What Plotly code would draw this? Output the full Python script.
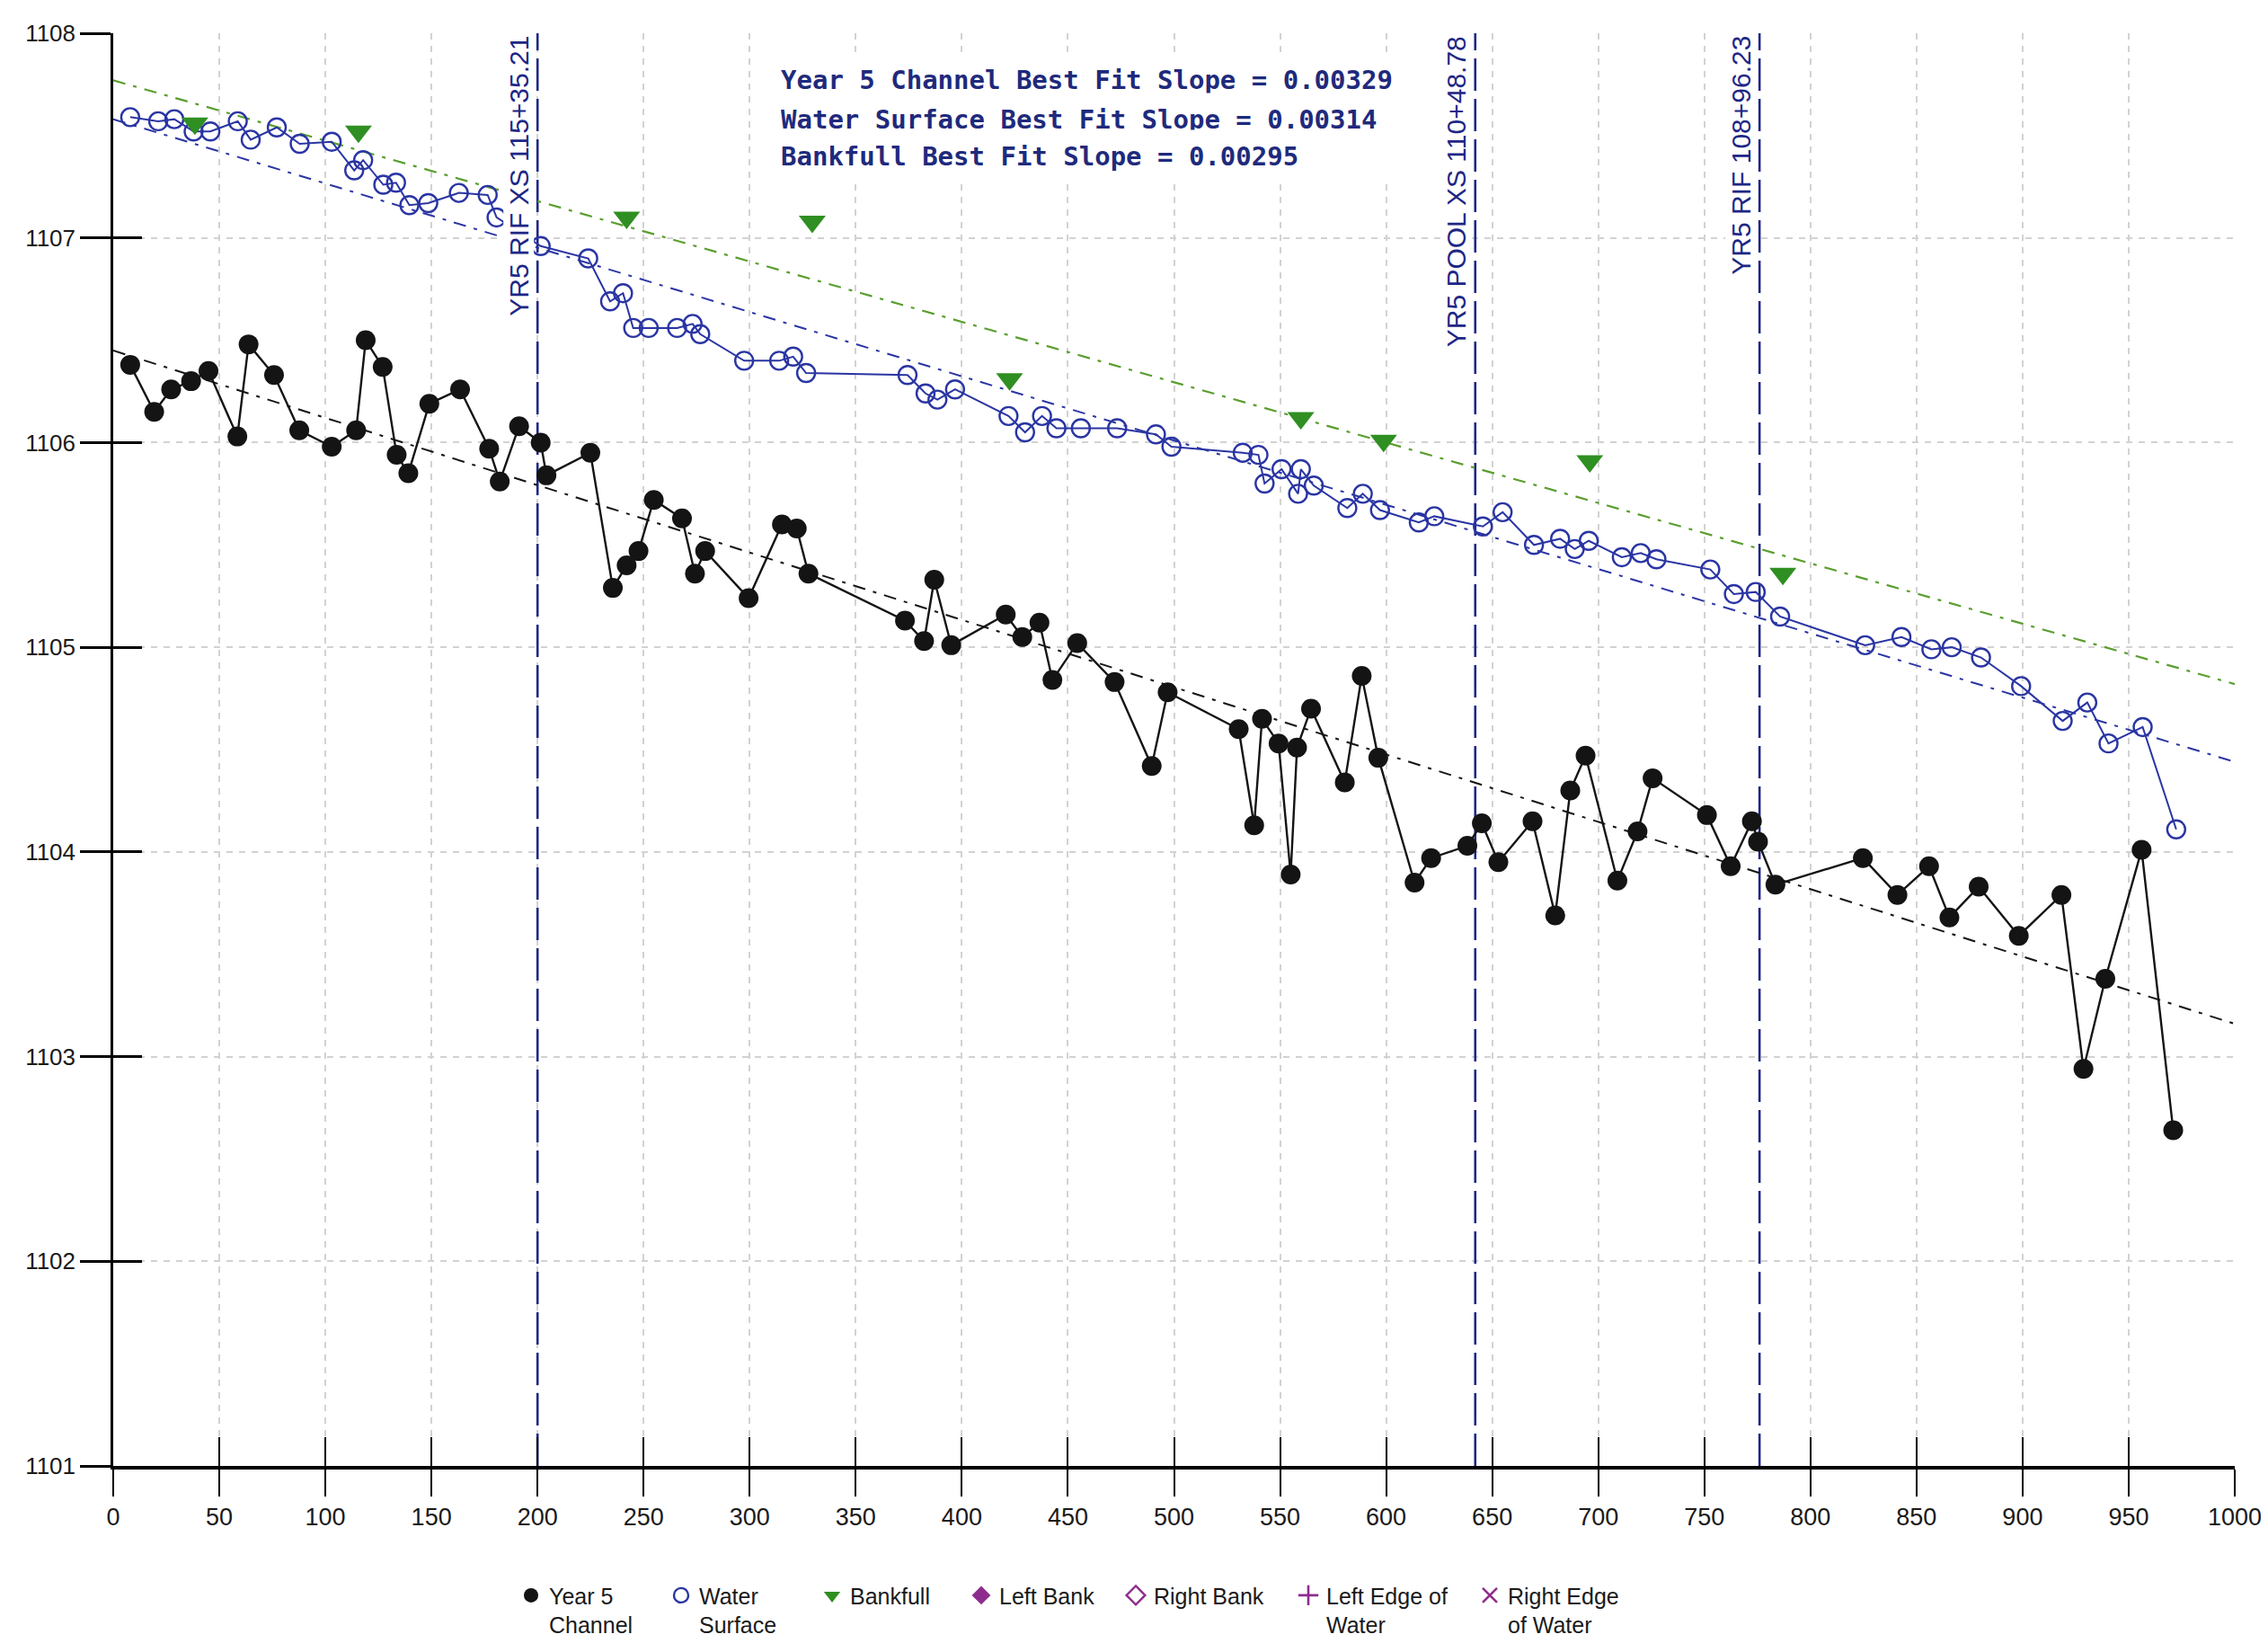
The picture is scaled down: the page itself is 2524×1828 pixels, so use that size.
import plotly.graph_objects as go

# ---------------- data ----------------
CH_X = [8, 19.3, 27.3, 36.7, 44.9, 58.5, 63.8, 75.8, 87.7, 103, 114.5, 119, 127, 133.6, 139.1,
        149, 163.5, 177.2, 182.2, 191.3, 201.5, 204.2, 224.9, 235.5, 242, 247.6, 254.8, 268.1,
        274.2, 279, 299.5, 315.2, 322.2, 327.7, 373.2, 382.2, 387, 395, 420.7, 428.5, 436.6,
        442.7, 454.4, 472, 489.5, 497, 530.5, 537.8, 541.5, 549.3, 555, 558, 564.6, 580.5,
        588.5, 596.3, 613.4, 621.2, 638.3, 645.1, 652.9, 669, 679.7, 686.8, 694, 709, 718.5,
        725.6, 751.2, 762.4, 772.4, 775.3, 783.5, 824.7, 841, 855.9, 865.5, 879.3, 898.2,
        918.3, 928.7, 939, 956.1, 971]
CH_Y = [1106.38, 1106.15, 1106.26, 1106.30, 1106.35, 1106.03, 1106.48, 1106.33, 1106.06, 1105.98,
        1106.06, 1106.50, 1106.37, 1105.94, 1105.85, 1106.19, 1106.26, 1105.97, 1105.81, 1106.08,
        1106.00, 1105.84, 1105.95, 1105.29, 1105.40, 1105.47, 1105.72, 1105.63, 1105.36, 1105.47,
        1105.24, 1105.60, 1105.58, 1105.36, 1105.13, 1105.03, 1105.33, 1105.01, 1105.16, 1105.05,
        1105.12, 1104.84, 1105.02, 1104.83, 1104.42, 1104.78, 1104.60, 1104.13, 1104.65, 1104.53,
        1103.89, 1104.51, 1104.70, 1104.34, 1104.86, 1104.46, 1103.85, 1103.97, 1104.03, 1104.14,
        1103.95, 1104.15, 1103.69, 1104.30, 1104.47, 1103.86, 1104.10, 1104.36, 1104.18, 1103.93,
        1104.15, 1104.05, 1103.84, 1103.97, 1103.79, 1103.93, 1103.68, 1103.83, 1103.59, 1103.79,
        1102.94, 1103.38, 1104.01, 1102.64]

WS_X = [8, 21.2, 28.8, 37.9, 45.8, 58.7, 64.8, 77.1, 87.9, 103, 113.6, 117.8, 127.3, 133.3, 139.6,
        148.5, 162.9, 176.5, 180.7, 201.5, 223.9, 234.2, 240.3, 245.1, 252.4, 265.8, 273.1, 276.7,
        297.4, 313.9, 320.5, 326.6, 374.4, 382.9, 388.5, 396.8, 422, 429.8, 437.8, 444.6, 456.1,
        473.2, 491.5, 498.8, 532.4, 539.8, 542.7, 550.7, 558.5, 559.8, 565.9, 581.7, 589, 597.1,
        615.4, 622.7, 645.6, 654.9, 669.7, 682, 688.9, 695.5, 711.1, 720, 727.4, 752.8, 763.9,
        774.2, 785.7, 825.8, 842.9, 857, 866.6, 880.4, 899.3, 918.9, 930.5, 940.5, 956.6, 972.4]
WS_Y = [1107.59, 1107.57, 1107.58, 1107.52, 1107.52, 1107.57, 1107.48, 1107.54, 1107.46, 1107.47,
        1107.33, 1107.38, 1107.26, 1107.27, 1107.16, 1107.17, 1107.22, 1107.21, 1107.10, 1106.96,
        1106.90, 1106.69, 1106.73, 1106.56, 1106.56, 1106.56, 1106.58, 1106.53, 1106.40, 1106.40,
        1106.42, 1106.34, 1106.33, 1106.24, 1106.21, 1106.26, 1106.13, 1106.05, 1106.13, 1106.07,
        1106.07, 1106.07, 1106.04, 1105.98, 1105.95, 1105.94, 1105.80, 1105.87, 1105.75, 1105.87,
        1105.79, 1105.68, 1105.75, 1105.67, 1105.61, 1105.64, 1105.59, 1105.66, 1105.50, 1105.53,
        1105.48, 1105.52, 1105.44, 1105.46, 1105.43, 1105.38, 1105.26, 1105.27, 1105.15, 1105.01,
        1105.05, 1104.99, 1105.00, 1104.95, 1104.81, 1104.64, 1104.73, 1104.53, 1104.61, 1104.11]

BF_X = [38.5, 115.6, 242, 329.5, 422.5, 559.8, 598.8, 696, 787]
BF_Y = [1107.56, 1107.52, 1107.10, 1107.08, 1106.31, 1106.12, 1106.01, 1105.91, 1105.36]

FIT_X = [0, 1000]
CH_FIT = [1106.45, 1103.16]
WS_FIT = [1107.58, 1104.44]
BF_FIT = [1107.77, 1104.82]

XS_X = [200, 642, 776]
XS_LABELS = ["YR5 RIF XS 115+35.21", "YR5 POOL XS 110+48.78", "YR5 RIF 108+96.23"]

SLOPE_TEXT = ["Year 5 Channel Best Fit Slope = 0.00329",
              "Water Surface Best Fit Slope = 0.00314",
              "Bankfull Best Fit Slope = 0.00295"]
SLOPE_Y = [1107.77, 1107.58, 1107.40]

X_TICKS = list(range(0, 1001, 50))
Y_TICKS = list(range(1101, 1109))
X_RANGE = [0, 1000]
Y_RANGE = [1101, 1108]

LEGEND_NAMES = ["Year 5<br>Channel", "Water<br>Surface", "Bankfull", "Left Bank", "Right Bank",
                "Left Edge of<br>Water", "Right Edge<br>of Water"]

# ---------------- styles ----------------
BLACK = "#141414"
BLUE = "#2a35a3"
NAVY = "#1e2786"
GREEN = "#2f8f22"
GREEN_LINE = "#5a9e2e"
PURPLE = "#8e2c8e"
GRID = "#d2d2d2"
FONT = "Liberation Sans, Arial, sans-serif"

W, H = 2524, 1828
ML, MR, MT, MB = 118, 45, 29, 205
PW = W - ML - MR

fig = go.Figure()

# vertical cross-section lines
for xv in XS_X:
    fig.add_trace(go.Scatter(x=[xv, xv], y=Y_RANGE, mode="lines",
                             line=dict(color=NAVY, width=2.6, dash="36px,9px"),
                             showlegend=False, hoverinfo="skip"))

# best fit lines
fig.add_trace(go.Scatter(x=FIT_X, y=BF_FIT, mode="lines",
                         line=dict(color=GREEN_LINE, width=2.2, dash="14px,9px,4px,9px"),
                         showlegend=False, hoverinfo="skip"))
fig.add_trace(go.Scatter(x=FIT_X, y=WS_FIT, mode="lines",
                         line=dict(color=BLUE, width=2.0, dash="14px,9px,4px,9px"),
                         showlegend=False, hoverinfo="skip"))
fig.add_trace(go.Scatter(x=FIT_X, y=CH_FIT, mode="lines",
                         line=dict(color=BLACK, width=2.0, dash="14px,9px,4px,9px"),
                         showlegend=False, hoverinfo="skip"))

# data series
fig.add_trace(go.Scatter(x=WS_X, y=WS_Y, mode="lines+markers",
                         line=dict(color=BLUE, width=2.0),
                         marker=dict(symbol="circle-open", size=20, color=BLUE, line=dict(width=2.4)),
                         showlegend=False))
fig.add_trace(go.Scatter(x=CH_X, y=CH_Y, mode="lines+markers",
                         line=dict(color=BLACK, width=2.4),
                         marker=dict(symbol="circle", size=22, color=BLACK),
                         showlegend=False))
fig.add_trace(go.Scatter(x=BF_X, y=BF_Y, mode="markers",
                         marker=dict(symbol="triangle-down", size=26, color=GREEN),
                         showlegend=False))

# legend-only entries
LEG_MARKERS = [
    dict(symbol="circle", size=20, color=BLACK),
    dict(symbol="circle-open", size=19, color=BLUE, line=dict(width=2.4)),
    dict(symbol="triangle-down", size=22, color=GREEN),
    dict(symbol="diamond", size=22, color=PURPLE),
    dict(symbol="diamond-open", size=22, color=PURPLE, line=dict(width=2.4)),
    dict(symbol="cross-thin-open", size=24, color=PURPLE, line=dict(width=2.6, color=PURPLE)),
    dict(symbol="x-thin-open", size=20, color=PURPLE, line=dict(width=2.6, color=PURPLE)),
]
LEG_PX = [583, 750, 918, 1084, 1256, 1448, 1650]
for i, (nm, mk) in enumerate(zip(LEGEND_NAMES, LEG_MARKERS)):
    lg = "legend" if i == 0 else f"legend{i + 1}"
    fig.add_trace(go.Scatter(x=[None], y=[None], mode="markers", name=nm, marker=mk,
                             legend=lg, showlegend=True))
    fig.update_layout({lg: dict(
        x=(LEG_PX[i] - 20 - ML) / PW, xanchor="left",
        y=-0.076, yanchor="top",
        orientation="h", valign="top", itemsizing="trace",
        bgcolor="rgba(0,0,0,0)", borderwidth=0,
        font=dict(family=FONT, size=25, color="#1a1a1a"),
    )})

# dummy trace for inner-tick overlay axes
fig.add_trace(go.Scatter(x=[None], y=[None], xaxis="x2", yaxis="y2", showlegend=False,
                         hoverinfo="skip"))

annotations = []
for xv, lab in zip(XS_X, XS_LABELS):
    annotations.append(dict(x=xv, y=Y_RANGE[1], xref="x", yref="y", text=lab, textangle=-90,
                            xanchor="right", yanchor="top", xshift=-4, yshift=-2, showarrow=False,
                            bgcolor="white", borderpad=0,
                            font=dict(family=FONT, size=30, color=NAVY)))
for txt, yv in zip(SLOPE_TEXT, SLOPE_Y):
    annotations.append(dict(x=309, y=yv, xref="x", yref="y", text="<b>" + txt + "</b>",
                            xanchor="left", yanchor="middle", showarrow=False,
                            bgcolor="white", borderpad=12, width=700, align="left",
                            font=dict(family="DejaVu Sans Mono, monospace", size=29, color="#1f2a7c")))

fig.update_layout(
    width=W, height=H,
    margin=dict(l=ML, r=MR, t=MT, b=MB, pad=0, autoexpand=False),
    paper_bgcolor="white", plot_bgcolor="white",
    annotations=annotations,
    xaxis=dict(range=X_RANGE, tickvals=X_TICKS, ticktext=[str(v) for v in X_TICKS],
               ticks="outside", ticklen=30, tickwidth=2, tickcolor="black",
               showline=True, linecolor="black", linewidth=4,
               showgrid=True, gridcolor=GRID, gridwidth=1.6, griddash="7px,7px",
               zeroline=False, automargin=False,
               tickfont=dict(family=FONT, size=27, color="#1a1a1a")),
    yaxis=dict(range=Y_RANGE, tickvals=Y_TICKS, ticktext=[str(v) for v in Y_TICKS],
               ticks="outside", ticklen=34, tickwidth=3, tickcolor="black",
               showline=True, linecolor="black", linewidth=2.5,
               showgrid=True, gridcolor=GRID, gridwidth=1.6, griddash="7px,7px",
               zeroline=False, automargin=False,
               tickfont=dict(family=FONT, size=26, color="#1a1a1a")),
    xaxis2=dict(range=X_RANGE, tickvals=X_TICKS, overlaying="x", anchor="y2", side="bottom",
                ticks="inside", ticklen=32, tickwidth=2, tickcolor="black",
                showticklabels=False, showgrid=False, showline=False, zeroline=False),
    yaxis2=dict(range=Y_RANGE, tickvals=Y_TICKS, overlaying="y", anchor="x2", side="left",
                ticks="inside", ticklen=32, tickwidth=3, tickcolor="black",
                showticklabels=False, showgrid=False, showline=False, zeroline=False),
    showlegend=True,
)

fig.write_html("out.html")
